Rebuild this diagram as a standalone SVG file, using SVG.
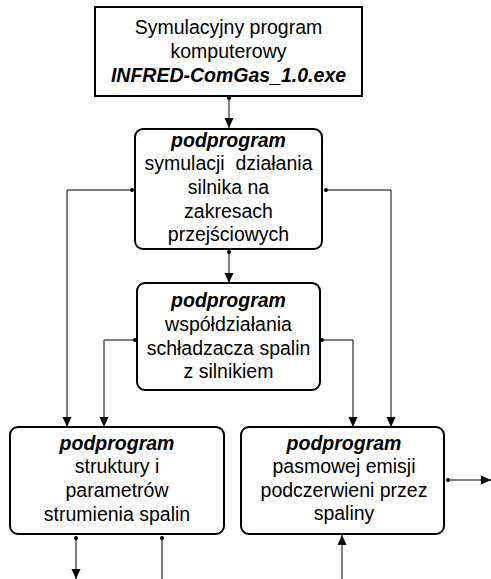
<svg xmlns="http://www.w3.org/2000/svg" width="491" height="579" viewBox="0 0 491 579">
<defs>
<marker id="ah" viewBox="0 0 10 12" refX="10" refY="6" markerWidth="10" markerHeight="12" markerUnits="userSpaceOnUse" orient="auto">
<path d="M0,1.5 L10,6 L0,10.5 Z" fill="#000"/>
</marker>
</defs>
<style>
.box{fill:#fff;stroke:#000;stroke-width:2}
.t{font-family:"Liberation Sans",Arial,sans-serif;font-size:19.5px;text-anchor:middle;fill:#000}
.b{font-weight:bold;font-style:italic}
.c{fill:none;stroke:#000;stroke-width:1}
.d{fill:#000}
</style>
<rect width="491" height="579" fill="#fff"/>
<g id="connectors">
<path class="c" d="M229,98 V128" marker-end="url(#ah)"/>
<circle class="d" cx="229" cy="98" r="2"/>
<path class="c" d="M229,252 V283" marker-end="url(#ah)"/>
<circle class="d" cx="229" cy="252" r="2"/>
<path class="c" d="M132,190 H67 V427" marker-end="url(#ah)"/>
<circle class="d" cx="132" cy="190" r="2"/>
<path class="c" d="M326,190 H391 V427" marker-end="url(#ah)"/>
<circle class="d" cx="326" cy="190" r="2"/>
<path class="c" d="M135,340 H104 V427" marker-end="url(#ah)"/>
<circle class="d" cx="135" cy="340" r="2"/>
<path class="c" d="M322,340 H353 V427" marker-end="url(#ah)"/>
<circle class="d" cx="322" cy="340" r="2"/>
<path class="c" d="M448,480 H491" marker-end="url(#ah)"/>
<circle class="d" cx="448" cy="480" r="2"/>
<path class="c" d="M76,538 V579" marker-end="url(#ah)"/>
<circle class="d" cx="76" cy="538" r="2"/>
<path class="c" d="M162,538 V579"/>
<circle class="d" cx="162" cy="538" r="2"/>
<path class="c" d="M342,579 V535" marker-end="url(#ah)"/>
</g>
<g id="main">
<rect class="box" x="95" y="7" width="267" height="89"/>
<text class="t" x="228.5" y="34">Symulacyjny program</text>
<text class="t" x="228.5" y="58">komputerowy</text>
<text class="t b" x="228.5" y="82">INFRED-ComGas_1.0.exe</text>
</g>
<g id="sim">
<rect class="box" x="135" y="129" width="187" height="120" rx="8"/>
<text class="t b" x="228.5" y="147">podprogram</text>
<text class="t" x="228.5" y="170" xml:space="preserve">symulacji  działania</text>
<text class="t" x="228.5" y="194">silnika na</text>
<text class="t" x="228.5" y="218">zakresach</text>
<text class="t" x="228.5" y="241">przejściowych</text>
</g>
<g id="coop">
<rect class="box" x="137" y="283" width="183" height="107" rx="8"/>
<text class="t b" x="228.5" y="307">podprogram</text>
<text class="t" x="228.5" y="331">współdziałania</text>
<text class="t" x="228.5" y="355">schładzacza spalin</text>
<text class="t" x="228.5" y="378">z silnikiem</text>
</g>
<g id="struct">
<rect class="box" x="10" y="427" width="214" height="107" rx="8"/>
<text class="t b" x="117" y="450">podprogram</text>
<text class="t" x="117" y="473">struktury i</text>
<text class="t" x="117" y="497">parametrów</text>
<text class="t" x="117" y="521">strumienia spalin</text>
</g>
<g id="emis">
<rect class="box" x="241" y="427" width="203" height="107" rx="8"/>
<text class="t b" x="344" y="450">podprogram</text>
<text class="t" x="344" y="473">pasmowej emisji</text>
<text class="t" x="344" y="497">podczerwieni przez</text>
<text class="t" x="344" y="520">spaliny</text>
</g>
</svg>
